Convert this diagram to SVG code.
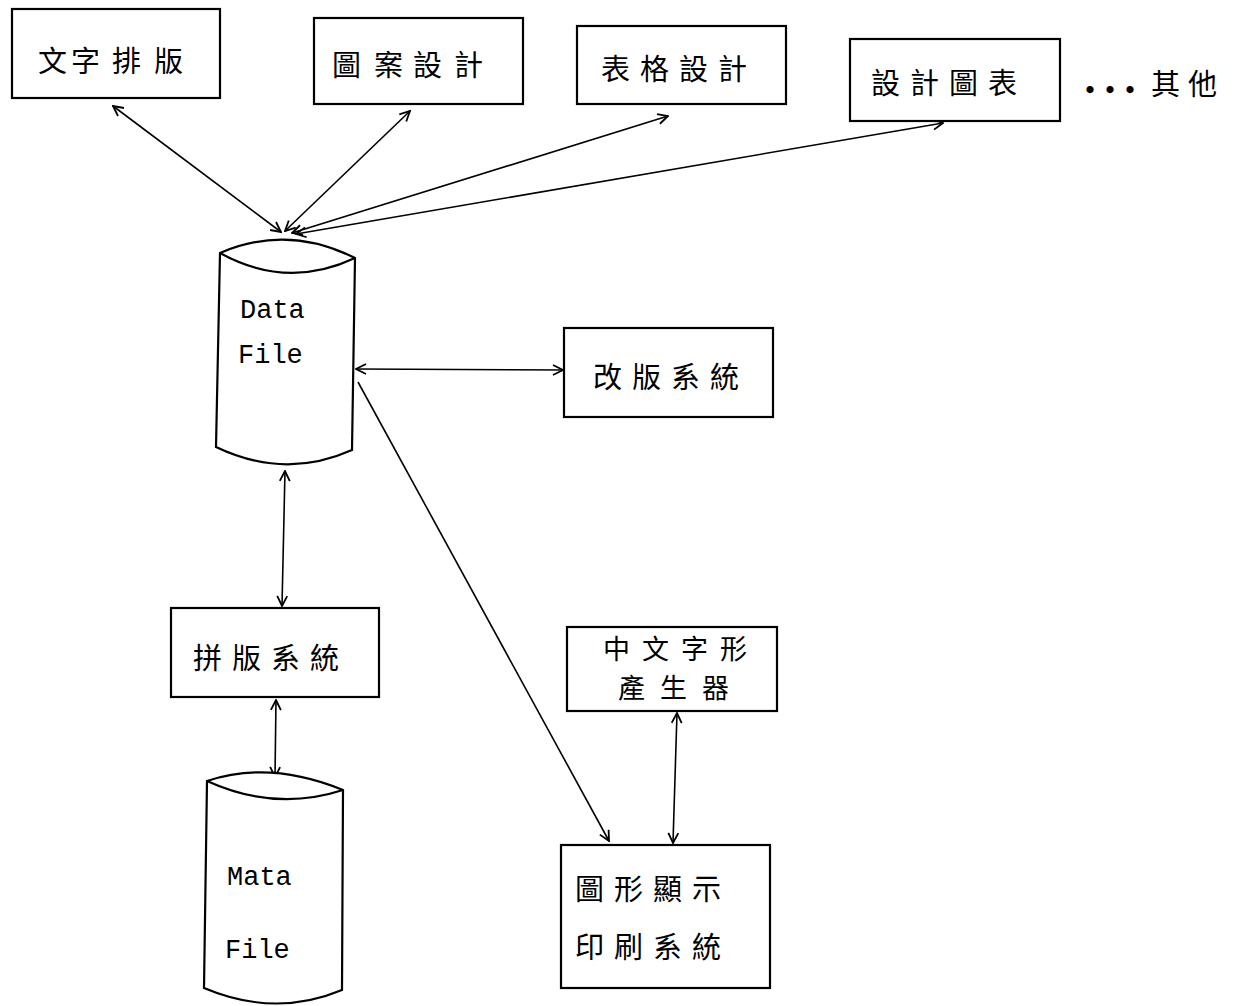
<svg xmlns="http://www.w3.org/2000/svg" width="1241" height="1006" viewBox="0 0 1241 1006">
<defs>
<marker id="ah" viewBox="0 0 12 12" refX="11" refY="6" markerWidth="12" markerHeight="12" markerUnits="userSpaceOnUse" orient="auto-start-reverse">
<path d="M1,1 L11,6 L1,11" fill="none" stroke="#000" stroke-width="1.8"/>
</marker>
<style>
.box{fill:#fff;stroke:#000;stroke-width:2.2}
.cyl{fill:#fff;stroke:#000;stroke-width:2.2}
.cn{font-family:"Noto Sans CJK TC","Noto Sans CJK SC",sans-serif;font-size:29px;fill:#000;letter-spacing:10px}
.en{font-family:"Liberation Mono","DejaVu Sans Mono",monospace;font-size:27px;fill:#000}
.ln{fill:none;stroke:#000;stroke-width:1.6;marker-start:url(#ah);marker-end:url(#ah)}
.ln1{fill:none;stroke:#000;stroke-width:1.6;marker-end:url(#ah)}
</style>
</defs>
<rect width="1241" height="1006" fill="#fff"/>

<g id="connectors">
<line class="ln" x1="113" y1="106" x2="281" y2="232"/>
<line class="ln" x1="410" y1="111" x2="285" y2="231"/>
<line class="ln" x1="668" y1="116" x2="292" y2="233"/>
<line class="ln" x1="943" y1="123" x2="296" y2="234"/>
<line class="ln" x1="356" y1="369" x2="563" y2="370"/>
<line class="ln1" x1="358" y1="382" x2="609" y2="841"/>
<line class="ln" x1="285" y1="471" x2="282" y2="606"/>
<line class="ln" x1="276" y1="700" x2="275" y2="777"/>
<line class="ln" x1="677" y1="713" x2="673" y2="843"/>
</g>

<g id="n-wenzi">
<rect class="box" x="12" y="9" width="208" height="89"/>
<text class="cn" y="72" style="letter-spacing:0"><tspan x="38">文</tspan><tspan x="71">字</tspan><tspan x="112">排</tspan><tspan x="154">版</tspan></text>
</g>
<g id="n-tuan">
<rect class="box" x="314" y="18" width="209" height="86"/>
<text class="cn" y="76" style="letter-spacing:0"><tspan x="332">圖</tspan><tspan x="374">案</tspan><tspan x="413">設</tspan><tspan x="454">計</tspan></text>
</g>
<g id="n-biaoge">
<rect class="box" x="577" y="26" width="209" height="78"/>
<text class="cn" x="601" y="80">表格設計</text>
</g>
<g id="n-sheji">
<rect class="box" x="850" y="39" width="210" height="82"/>
<text class="cn" x="871" y="94">設計圖表</text>
</g>
<g id="n-other">
<text class="cn" x="1073" y="103" style="font-size:34px;letter-spacing:-14px">•••</text>
<text class="cn" x="1151" y="95" style="letter-spacing:8px">其他</text>
</g>

<g id="n-datafile">
<path class="cyl" d="M220,253 Q287,224 355,258 L352,450 Q285,480 216,447 Z"/>
<path fill="none" stroke="#000" stroke-width="2.2" d="M220,253 Q287,290 355,258"/>
<text class="en" x="240" y="318">Data</text>
<text class="en" x="238" y="363">File</text>
</g>

<g id="n-gaiban">
<rect class="box" x="564" y="328" width="209" height="89"/>
<text class="cn" x="593" y="388">改版系統</text>
</g>

<g id="n-pinban">
<rect class="box" x="171" y="608" width="208" height="89"/>
<text class="cn" x="193" y="669">拼版系統</text>
</g>

<g id="n-matafile">
<path class="cyl" d="M207,781 Q270,760 343,790 L342,990 Q275,1018 204,988 Z"/>
<path fill="none" stroke="#000" stroke-width="2.2" d="M207,781 Q275,812 343,790"/>
<text class="en" x="227" y="885">Mata</text>
<text class="en" x="225" y="958">File</text>
</g>

<g id="n-zixing">
<rect class="box" x="567" y="627" width="210" height="84"/>
<text class="cn" x="603" y="659" style="font-size:27px;letter-spacing:12px">中文字形</text>
<text class="cn" x="618" y="698" style="font-size:27px;letter-spacing:15px">產生器</text>
</g>

<g id="n-tuxing">
<rect class="box" x="561" y="845" width="209" height="143"/>
<text class="cn" x="575" y="900">圖形顯示</text>
<text class="cn" x="575" y="958">印刷系統</text>
</g>
</svg>
